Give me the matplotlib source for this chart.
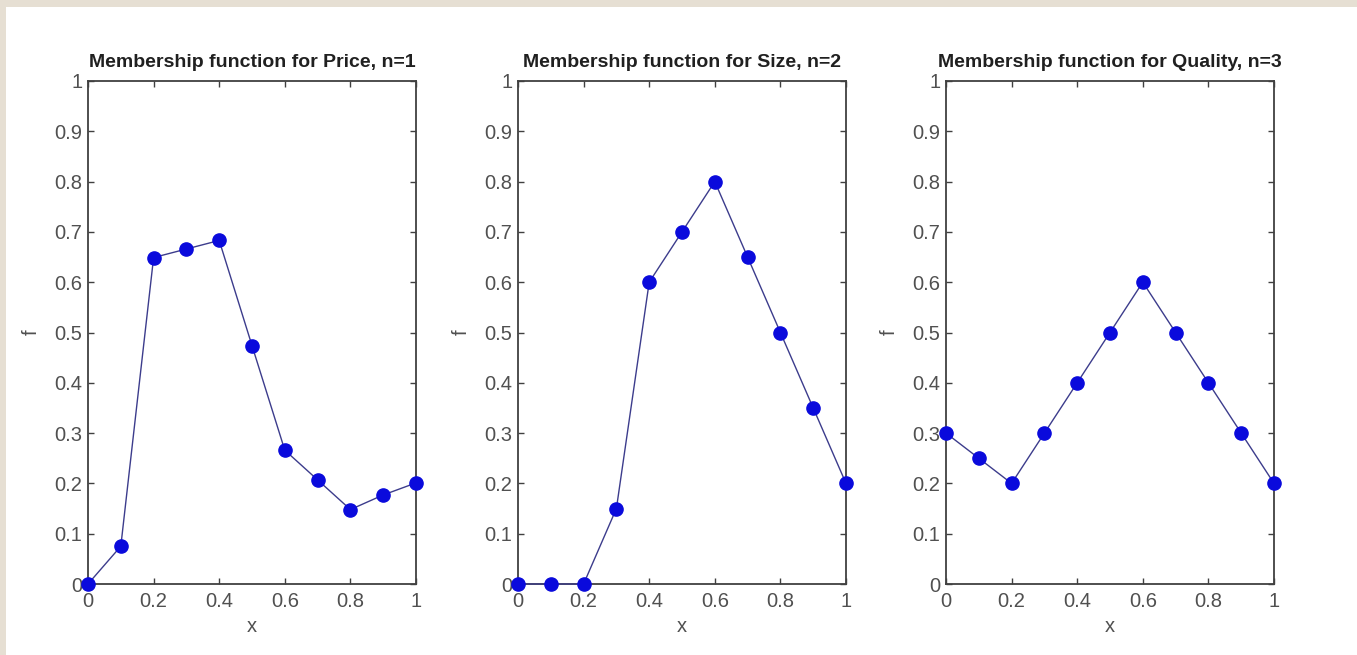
import matplotlib.pyplot as plt
from matplotlib.patches import Rectangle

# membership values
x = [0, 0.1, 0.2, 0.3, 0.4, 0.5, 0.6, 0.7, 0.8, 0.9, 1.0]
price = [0, 0.075, 0.649, 0.666, 0.683, 0.474, 0.266, 0.207, 0.148, 0.177, 0.201]
size = [0, 0, 0, 0.15, 0.6, 0.7, 0.8, 0.65, 0.5, 0.35, 0.2]
quality = [0.3, 0.25, 0.2, 0.3, 0.4, 0.5, 0.6, 0.5, 0.4, 0.3, 0.2]

titles = ['Membership function for Price, n=1',
          'Membership function for Size, n=2',
          'Membership function for Quality, n=3']
series = [price, size, quality]

xticks = [0, 0.2, 0.4, 0.6, 0.8, 1.0]
xtick_labels = ['0', '0.2', '0.4', '0.6', '0.8', '1']
yticks = [0, 0.1, 0.2, 0.3, 0.4, 0.5, 0.6, 0.7, 0.8, 0.9, 1.0]
ytick_labels = ['0', '0.1', '0.2', '0.3', '0.4', '0.5', '0.6', '0.7', '0.8', '0.9', '1']

plt.rcParams['font.family'] = ['Liberation Sans', 'DejaVu Sans']

fig = plt.figure(figsize=(13.57, 6.55), dpi=100)
fig.patch.set_facecolor('#e6dfd3')
# white page inside the beige frame
fig.patches.append(Rectangle((6 / 1357, 0), 1, (655 - 7) / 655,
                             transform=fig.transFigure, facecolor='white',
                             edgecolor='none', zorder=-1))

lefts = [88, 518, 946]
for left, title, vals in zip(lefts, titles, series):
    ax = fig.add_axes([left / 1357, 71 / 655, 328 / 1357, 503 / 655])
    ax.set_facecolor('white')
    ax.plot(x, vals, color='#3c3c8c', linewidth=1.0, marker='o',
            markersize=9.5, markerfacecolor='#0a0adc', markeredgecolor='#0a0adc',
            clip_on=False, zorder=3)
    ax.set_xlim(0, 1)
    ax.set_ylim(0, 1)
    ax.set_xticks(xticks)
    ax.set_xticklabels(xtick_labels)
    ax.set_yticks(yticks)
    ax.set_yticklabels(ytick_labels)
    ax.tick_params(direction='in', length=4, width=1, color='#404040',
                   labelsize=14.5, labelcolor='#505050', top=True, right=True)
    ax.tick_params(axis='x', pad=6)
    ax.tick_params(axis='y', pad=4)
    for sp in ax.spines.values():
        sp.set_color('#404040')
        sp.set_linewidth(1.3)
    ax.set_title(title, fontsize=14, fontweight='bold', color='#202020', pad=10)
    ax.set_xlabel('x', fontsize=14.5, color='#505050', labelpad=4)
    ax.set_ylabel('f', fontsize=14.5, color='#505050', labelpad=10)

fig.savefig('out.png', dpi=100, facecolor=fig.get_facecolor())
